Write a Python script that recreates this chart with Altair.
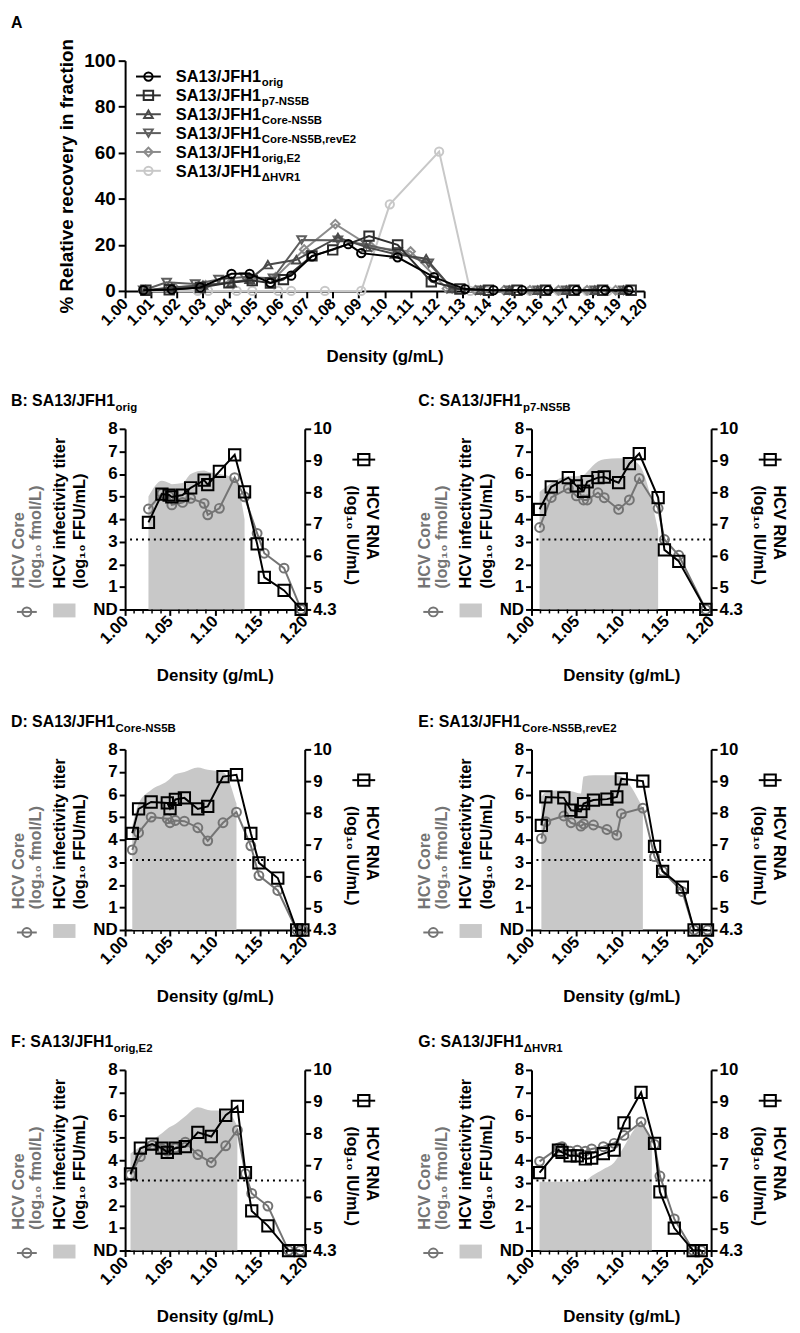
import altair as alt
import pandas as pd

FONT = "Liberation Sans"

# ---------------- Panel A data ----------------
A_SUBS = ["orig", "p7-NS5B", "Core-NS5B", "Core-NS5B,revE2", "orig,E2", "\u0394HVR1"]
A_COLORS = ["#000000", "#2e2e2e", "#4a4a4a", "#5e5e5e", "#8c8c8c", "#c8c8c8"]
A_SHAPES = ["circle", "square", "triangle-up", "triangle-down", "diamond", "circle"]
A_SIZES = [70, 90, 75, 75, 75, 70]

A_orig_d = [1.007, 1.018, 1.029, 1.041, 1.048, 1.056, 1.064, 1.072, 1.086, 1.091, 1.105, 1.119, 1.131, 1.142, 1.153, 1.163, 1.174, 1.185, 1.194]
A_orig_v = [0.3, 0.6, 1.5, 7.4, 7.4, 3.5, 6.6, 15.0, 20.3, 16.4, 14.6, 6.0, 0.8, 0.3, 0.3, 0.3, 0.3, 0.3, 0.3]
A_p7_d = [1.008, 1.017, 1.029, 1.040, 1.049, 1.056, 1.061, 1.072, 1.080, 1.094, 1.105, 1.118, 1.129, 1.140, 1.151, 1.162, 1.173, 1.184, 1.195]
A_p7_v = [0.3, 0.5, 1.5, 3.5, 4.5, 3.4, 4.9, 15.2, 17.8, 23.8, 20.0, 4.0, 0.8, 0.3, 0.3, 0.3, 0.3, 0.3, 0.3]
A_core_d = [1.008, 1.018, 1.030, 1.041, 1.048, 1.055, 1.066, 1.082, 1.093, 1.104, 1.116, 1.126, 1.137, 1.148, 1.159, 1.170, 1.181, 1.192]
A_core_v = [0.3, 1.5, 2.5, 3.5, 5.0, 11.4, 13.5, 23.2, 19.0, 16.0, 14.0, 1.0, 0.3, 0.3, 0.3, 0.3, 0.3, 0.3]
A_rev_d = [1.007, 1.016, 1.027, 1.036, 1.046, 1.057, 1.068, 1.082, 1.093, 1.105, 1.117, 1.126, 1.137, 1.148, 1.159, 1.170, 1.181, 1.192]
A_rev_v = [0.3, 3.7, 3.0, 5.0, 6.0, 5.5, 22.1, 22.0, 20.0, 17.0, 12.0, 1.0, 0.3, 0.3, 0.3, 0.3, 0.3, 0.3]
A_e2_d = [1.008, 1.019, 1.031, 1.041, 1.049, 1.058, 1.069, 1.081, 1.095, 1.110, 1.124, 1.135, 1.146, 1.156, 1.167, 1.178, 1.189]
A_e2_v = [0.3, 1.5, 2.5, 4.0, 5.0, 6.0, 18.0, 29.0, 19.0, 17.1, 1.0, 0.3, 0.3, 0.3, 0.3, 0.3, 0.3]
A_hvr_d = [1.007, 1.028, 1.032, 1.043, 1.049, 1.059, 1.064, 1.077, 1.091, 1.102, 1.121, 1.133, 1.139, 1.156, 1.167, 1.178, 1.186]
A_hvr_v = [0, 0, 0, 0, 0, 0, 0, 0, 0, 37.6, 60.5, 0, 0, 0, 0, 0, 0]
A_DATA = [(A_orig_d, A_orig_v), (A_p7_d, A_p7_v), (A_core_d, A_core_v),
          (A_rev_d, A_rev_v), (A_e2_d, A_e2_v), (A_hvr_d, A_hvr_v)]

A_XTICKS = [1.00, 1.01, 1.02, 1.03, 1.04, 1.05, 1.06, 1.07, 1.08, 1.09, 1.10,
            1.11, 1.12, 1.13, 1.14, 1.15, 1.16, 1.17, 1.18, 1.19, 1.20]
A_YTICKS = [0, 20, 40, 60, 80, 100]

# ---------------- Panels B-G data ----------------
P_XTICKS = [1.00, 1.05, 1.10, 1.15, 1.20]
P_MINOR = [1.01, 1.02, 1.03, 1.04, 1.06, 1.07, 1.08, 1.09, 1.11, 1.12, 1.13,
           1.14, 1.16, 1.17, 1.18, 1.19]
LEFT_TICKS = [0, 1, 2, 3, 4, 5, 6, 7, 8]
RIGHT_TICKS = [4.3, 5, 6, 7, 8, 9, 10]
LOQ = [3.1]

PANELS = [
    dict(letter="B", sub="orig",
         dens=[1.026, 1.041, 1.049, 1.052, 1.064, 1.073, 1.088, 1.092, 1.105, 1.122, 1.133, 1.147, 1.155, 1.177, 1.196],
         rna=[7.05, 7.94, 7.91, 7.85, 7.91, 8.14, 8.38, 8.24, 8.66, 9.18, 8.01, 6.37, 5.31, 4.90, 4.30],
         core=[4.45, 5.14, 5.00, 4.63, 4.74, 4.92, 4.70, 4.19, 4.48, 5.84, 4.99, 3.37, 2.49, 1.83, 0.0],
         inf_d=[1.026, 1.041, 1.049, 1.052, 1.064, 1.073, 1.088, 1.092, 1.105, 1.122, 1.133],
         inf=[5.0, 5.7, 5.6, 5.55, 5.6, 6.0, 6.15, 6.1, 6.0, 5.8, 4.0]),
    dict(letter="C", sub="p7-NS5B",
         dens=[1.009, 1.022, 1.041, 1.050, 1.058, 1.062, 1.074, 1.081, 1.097, 1.109, 1.120, 1.141, 1.148, 1.164, 1.194],
         rna=[7.46, 8.17, 8.46, 8.20, 8.03, 8.33, 8.46, 8.48, 8.30, 8.90, 9.22, 7.83, 6.18, 5.82, 4.30],
         core=[3.63, 4.96, 5.36, 5.03, 4.85, 4.85, 5.17, 4.95, 4.43, 4.85, 5.80, 4.48, 3.10, 2.40, 0.0],
         inf_d=[1.009, 1.022, 1.041, 1.050, 1.058, 1.062, 1.074, 1.081, 1.097, 1.109, 1.120, 1.141],
         inf=[5.2, 5.6, 5.9, 5.9, 5.95, 6.1, 6.55, 6.65, 6.7, 6.65, 6.4, 3.5]),
    dict(letter="D", sub="Core-NS5B",
         dens=[1.008, 1.015, 1.029, 1.047, 1.050, 1.056, 1.066, 1.081, 1.092, 1.109, 1.124, 1.140, 1.149, 1.170, 1.191, 1.198],
         rna=[7.35, 8.12, 8.34, 8.31, 8.13, 8.42, 8.47, 8.12, 8.20, 9.14, 9.20, 7.35, 6.42, 5.94, 4.30, 4.30],
         core=[3.55, 4.31, 5.00, 4.93, 4.75, 4.85, 4.82, 4.53, 3.95, 4.75, 5.22, 3.73, 2.41, 1.75, 0.0, 0.0],
         inf_d=[1.008, 1.015, 1.029, 1.047, 1.050, 1.056, 1.066, 1.081, 1.092, 1.109, 1.124],
         inf=[4.6, 5.6, 6.2, 6.6, 6.7, 6.9, 7.0, 7.2, 7.1, 7.0, 5.6]),
    dict(letter="E", sub="Core-NS5B,revE2",
         dens=[1.011, 1.016, 1.036, 1.044, 1.055, 1.058, 1.069, 1.084, 1.095, 1.100, 1.124, 1.137, 1.146, 1.168, 1.181, 1.196],
         rna=[7.60, 8.50, 8.47, 8.08, 8.04, 8.29, 8.40, 8.43, 8.50, 9.07, 9.00, 6.94, 6.15, 5.65, 4.30, 4.30],
         core=[4.05, 4.80, 5.05, 4.75, 4.60, 4.70, 4.65, 4.45, 4.20, 5.15, 5.40, 3.25, 2.60, 1.70, 0.0, 0.0],
         inf_d=[1.011, 1.016, 1.036, 1.044, 1.055, 1.058, 1.069, 1.084, 1.095, 1.100, 1.124],
         inf=[5.9, 6.1, 6.2, 6.15, 6.05, 6.8, 6.85, 6.85, 6.85, 6.8, 5.4]),
    dict(letter="F", sub="orig,E2",
         dens=[1.006, 1.017, 1.030, 1.041, 1.047, 1.056, 1.067, 1.081, 1.096, 1.112, 1.125, 1.134, 1.141, 1.159, 1.182, 1.195],
         rna=[6.72, 7.53, 7.66, 7.53, 7.40, 7.53, 7.58, 8.03, 7.90, 8.57, 8.85, 6.76, 5.55, 5.08, 4.30, 4.30],
         core=[3.36, 4.16, 4.67, 4.50, 4.40, 4.55, 4.80, 4.25, 3.90, 4.64, 5.33, 3.40, 2.53, 1.97, 0.0, 0.0],
         inf_d=[1.006, 1.017, 1.030, 1.041, 1.047, 1.056, 1.067, 1.081, 1.096, 1.112, 1.125],
         inf=[4.3, 4.6, 4.9, 5.2, 5.4, 5.6, 5.95, 6.35, 6.2, 6.2, 5.5]),
    dict(letter="G", sub="\u0394HVR1",
         dens=[1.009, 1.030, 1.034, 1.043, 1.051, 1.060, 1.067, 1.080, 1.092, 1.103, 1.122, 1.137, 1.143, 1.159, 1.180, 1.189],
         rna=[6.76, 7.47, 7.40, 7.29, 7.29, 7.19, 7.22, 7.36, 7.47, 8.33, 9.29, 7.68, 6.15, 5.01, 4.30, 4.30],
         core=[3.95, 4.55, 4.60, 4.40, 4.45, 4.40, 4.50, 4.60, 4.75, 5.10, 5.70, 4.70, 3.30, 1.40, 0.0, 0.0],
         inf_d=[1.009, 1.030, 1.043, 1.060, 1.067, 1.080, 1.092, 1.103, 1.122, 1.134],
         inf=[3.05, 3.05, 3.05, 3.1, 3.3, 3.6, 3.9, 4.6, 5.6, 4.7]),
]

# ---------------- helpers ----------------
BOLD_W = {'A': 722, 'B': 722, 'C': 722, 'D': 722, 'E': 667, 'F': 611, 'G': 778,
          'H': 722, 'J': 556, 'S': 667, '1': 556, '3': 556, '/': 278, ':': 333, ' ': 278}


def text_width(s, size):
    return sum(BOLD_W.get(c, 600) for c in s) * size / 1000.0


ONE = pd.DataFrame({"k": [0]})


def T(s, x, y, size, color="black", angle=0, align="left", baseline="alphabetic"):
    return alt.Chart(pd.DataFrame({"t": [s]})).mark_text(
        font=FONT, fontWeight="bold", fontSize=size, color=color, angle=angle,
        align=align, baseline=baseline
    ).encode(text="t:N", x=alt.value(x), y=alt.value(y))


def seg(x1, x2, y, color, width=2):
    return alt.Chart(ONE).mark_rule(color=color, strokeWidth=width).encode(
        x=alt.value(x1), x2=alt.value(x2), y=alt.value(y))


def sym(x, y, shape, color, size):
    return alt.Chart(ONE).mark_point(shape=shape, filled=False, color=color,
                                     size=size, strokeWidth=2, opacity=1).encode(
        x=alt.value(x), y=alt.value(y))


# ---------------- Panel A ----------------
AW, AH = 523, 232
ax = alt.X("d:Q", scale=alt.Scale(domain=[1.0, 1.2], nice=False, zero=False),
           axis=alt.Axis(values=A_XTICKS, format=".2f", labelAngle=-45, labelAlign="right",
                         labelBaseline="middle", labelFontSize=16, labelOverlap=False,
                         labelFlush=False, labelPadding=3, tickSize=7,
                         title="Density (g/mL)", titleFontSize=17, titleY=71,
                         titleBaseline="alphabetic"))
ay = alt.Y("v:Q", scale=alt.Scale(domain=[0, 100], nice=False, zero=False),
           axis=alt.Axis(values=A_YTICKS, labelFontSize=19, tickSize=7, labelPadding=3,
                         title="% Relative recovery in fraction", titleFontSize=19,
                         titleX=-59, titleY=AH / 2, titleAngle=270, titleAlign="center",
                         titleBaseline="middle"))

a_layers = []
for i in [5, 4, 3, 2, 1, 0]:
    d, v = A_DATA[i]
    df = pd.DataFrame({"d": d, "v": v})
    a_layers.append(alt.Chart(df).mark_line(color=A_COLORS[i], strokeWidth=2).encode(x=ax, y=ay))
    a_layers.append(alt.Chart(df).mark_point(shape=A_SHAPES[i], filled=False, color=A_COLORS[i],
                                             size=A_SIZES[i], strokeWidth=2, opacity=1).encode(x=ax, y=ay))
for i, sub in enumerate(A_SUBS):
    yy = 16 + 19 * i
    a_layers.append(seg(11, 36, yy, A_COLORS[i]))
    a_layers.append(sym(23.5, yy, A_SHAPES[i], A_COLORS[i], A_SIZES[i]))
    a_layers.append(T("SA13/JFH1", 51, yy + 6, 16.5))
    a_layers.append(T(sub, 51 + text_width("SA13/JFH1", 16.5) + 0.5, yy + 10, 11.5))
a_layers.append(T("A", -115, -46, 16, baseline="top"))

chartA = alt.layer(*a_layers).properties(width=AW, height=AH)

# ---------------- Panels B-G ----------------
PW, PH = 181, 182
CORE_GRAY = "#747474"
AREA_GRAY = "#c8c8c8"


def panel(p, title_x):
    xs = alt.X("d:Q", scale=alt.Scale(domain=[1.0, 1.2], nice=False, zero=False),
               axis=alt.Axis(values=P_XTICKS, format=".2f", labelAngle=-45, labelAlign="right",
                             labelBaseline="middle", labelFontSize=16.5, labelOverlap=False,
                             labelFlush=False, labelPadding=3, tickSize=6,
                             title="Density (g/mL)", titleFontSize=17, titleY=72,
                             titleBaseline="alphabetic"))
    lsc = alt.Scale(domain=[0, 8], nice=False, zero=False)
    laxis = alt.Axis(values=LEFT_TICKS, labelExpr="datum.value == 0 ? 'ND' : datum.label",
                     title=None, labelFontSize=17, tickSize=6, labelPadding=2)
    rsc = alt.Scale(domain=[4.3, 10], nice=False, zero=False)
    raxis = alt.Axis(values=RIGHT_TICKS, orient="right",
                     labelExpr="datum.value == 4.3 ? '4.3' : format(datum.value, 'd')",
                     title=None, labelFontSize=17, tickSize=6, labelPadding=2)

    df = pd.DataFrame({"d": p["dens"], "core": p["core"], "rna": p["rna"]})
    adf = pd.DataFrame({"d": p["inf_d"], "inf": p["inf"]})
    mdf = pd.DataFrame({"d": P_MINOR})
    ldf = pd.DataFrame({"y": LOQ})

    left = [
        alt.Chart(adf).mark_area(color=AREA_GRAY, interpolate="monotone", opacity=1).encode(
            x=xs, y=alt.Y("inf:Q", scale=lsc, axis=laxis)),
        alt.Chart(ldf).mark_rule(color="black", strokeWidth=2, strokeDash=[2, 4]).encode(
            y=alt.Y("y:Q", scale=lsc, axis=laxis)),
        alt.Chart(mdf).mark_rule(color="black", strokeWidth=1.5).encode(
            x=xs, y=alt.value(PH), y2=alt.value(PH + 4)),
        alt.Chart(df).mark_line(color=CORE_GRAY, strokeWidth=2).encode(
            x=xs, y=alt.Y("core:Q", scale=lsc, axis=laxis)),
        alt.Chart(df).mark_point(shape="circle", filled=False, color=CORE_GRAY, size=80,
                                 strokeWidth=2, opacity=1).encode(
            x=xs, y=alt.Y("core:Q", scale=lsc, axis=laxis)),
        # panel title with subscript
        T(f"{p['letter']}: SA13/JFH1", title_x, -23, 16),
        T(p["sub"], title_x + text_width(f"{p['letter']}: SA13/JFH1", 16) + 0.5, -18, 11.5),
        # left axis titles
        T("HCV Core", -107, 161, 16.5, color=CORE_GRAY, angle=270, baseline="middle"),
        T("(log\u2081\u2080 fmol/L)", -90, 161, 16.5, color=CORE_GRAY, angle=270, baseline="middle"),
        T("HCV infectivity titer", -66, 161, 16.5, angle=270, baseline="middle"),
        T("(log\u2081\u2080 FFU/mL)", -45, 161, 16.5, angle=270, baseline="middle"),
        # left legend symbols
        seg(-109, -89, 184.5, CORE_GRAY),
        sym(-99, 184.5, "circle", CORE_GRAY, 80),
        alt.Chart(ONE).mark_rect(color=AREA_GRAY).encode(
            x=alt.value(-72.5), x2=alt.value(-50), y=alt.value(176), y2=alt.value(190)),
        # right axis titles + legend
        T("HCV RNA", PW + 68, 57, 16.5, angle=90, baseline="middle"),
        T("(log\u2081\u2080 IU/mL)", PW + 48, 57, 16.5, angle=90, baseline="middle"),
        seg(PW + 48, PW + 71, 31, "black"),
        sym(PW + 59.5, 31, "square", "black", 130),
    ]
    right = [
        alt.Chart(df).mark_line(color="black", strokeWidth=2).encode(
            x=xs, y=alt.Y("rna:Q", scale=rsc, axis=raxis)),
        alt.Chart(df).mark_point(shape="square", filled=False, color="black", size=130,
                                 strokeWidth=2, opacity=1).encode(
            x=xs, y=alt.Y("rna:Q", scale=rsc, axis=raxis)),
    ]
    return alt.layer(alt.layer(*left), alt.layer(*right)).resolve_scale(
        y="independent").properties(width=PW, height=PH)


charts = [panel(p, -115 if i % 2 == 0 else -114) for i, p in enumerate(PANELS)]
rows = [alt.hconcat(charts[0], charts[1], spacing=37.5),
        alt.hconcat(charts[2], charts[3], spacing=37.5),
        alt.hconcat(charts[4], charts[5], spacing=37.5)]
lower = alt.vconcat(*rows, spacing=30)

chart = alt.vconcat(chartA, lower, spacing=29).properties(
    padding={"left": 3, "top": 2, "right": 5, "bottom": 0}).configure_view(
    stroke=None).configure_axis(
    grid=False, domainColor="black", domainWidth=2, tickColor="black", tickWidth=2,
    labelFont=FONT, labelFontWeight="bold", labelColor="black",
    titleFont=FONT, titleFontWeight="bold", titleColor="black")

chart.save("out.html", embed_options={"renderer": "svg", "actions": False})
